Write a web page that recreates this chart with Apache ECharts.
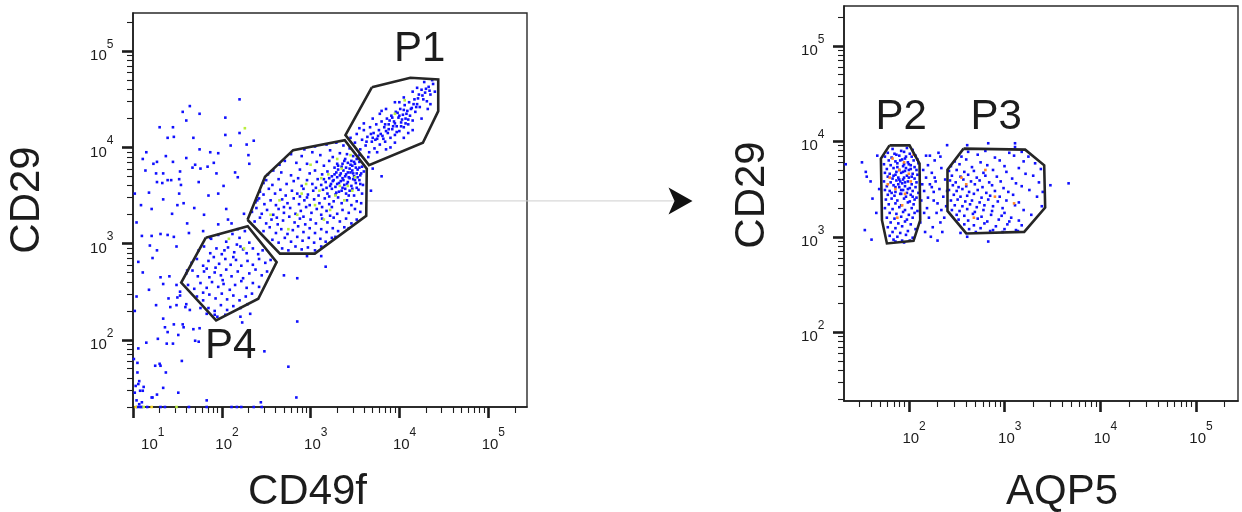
<!DOCTYPE html>
<html>
<head>
<meta charset="utf-8">
<script src="https://cdn.jsdelivr.net/npm/echarts@6/dist/echarts.min.js"></script>
<style>
  html, body { margin: 0; padding: 0; background: #ffffff; }
  #chart { width: 1242px; height: 512px; }
</style>
</head>
<body>
<div id="chart"></div>
<script>
// All event and gate coordinates are log10 intensities: [x channel, CD29].

// ---- Left plot: CD49f vs CD29 ----
const leftOutsideEvents = [
  [2.20,4.50],[1.56,4.37],[1.64,4.43],[1.75,4.35],[1.60,4.28],[2.04,4.31],[1.30,4.21],[1.45,4.21],
  [2.20,4.15],[2.04,4.13],[1.68,4.10],[1.39,4.10],[1.46,4.11],[2.36,4.07],[2.28,4.03],[2.10,4.02],
  [1.11,3.88],[1.37,3.91],[1.60,3.89],[1.75,3.98],[1.87,3.95],[1.96,3.94],[1.14,3.76],[1.23,3.83],
  [1.27,3.85],[1.26,3.73],[1.34,3.73],[1.39,3.66],[1.45,3.85],[1.53,3.75],[1.70,3.82],[1.67,3.79],
  [1.76,3.78],[1.84,3.80],[1.91,3.84],[1.94,3.73],[2.30,3.92],[2.31,3.83],[2.15,3.74],[2.18,3.69],
  [1.27,3.64],[1.43,3.66],[1.52,3.67],[1.54,3.61],[1.18,3.53],[1.33,3.63],[1.52,3.52],[1.96,3.52],
  [1.74,3.64],[1.09,3.40],[1.34,3.46],[1.44,3.31],[1.21,3.36],[1.50,3.40],[1.57,3.42],[1.69,3.37],
  [1.80,3.30],[1.04,3.22],[1.61,3.21],[1.10,3.08],[1.21,3.08],[1.31,3.10],[1.39,3.09],[1.46,3.07],
  [1.63,3.11],[1.79,3.13],[1.87,3.06],[2.07,3.25],[2.11,3.21],[2.25,3.31],[2.18,3.15],[1.96,3.20],
  [1.19,2.98],[1.27,2.93],[1.49,2.97],[1.02,3.52],[2.40,3.45],[2.02,3.60],[1.85,3.50],[1.15,3.95],
  [2.05,3.36],
  [1.06,2.81],[1.31,2.65],[1.41,2.66],[1.34,2.58],[1.49,2.57],[1.40,2.43],[1.50,2.44],[1.42,2.34],
  [1.49,2.36],[1.53,2.50],[1.60,2.37],[1.64,2.31],[1.76,2.33],[1.83,2.27],[1.34,2.22],[1.36,2.13],
  [1.28,2.01],[1.39,2.08],[1.45,1.96],[1.57,2.13],[1.68,2.11],[1.75,2.12],[1.70,1.99],[1.74,1.98],
  [1.55,1.78],[1.25,1.73],[1.31,1.73],[1.37,1.66],[2.21,2.24],[2.23,2.18],[2.32,2.27],[2.48,1.88],
  [2.70,2.67],[2.85,2.64],[2.85,2.19],[2.75,1.72],[2.84,1.40],[3.17,2.76],[2.96,2.87],[2.44,1.35],
  [1.83,1.37],[1.07,1.57],[1.12,1.51],[1.21,1.40],[1.27,1.43],[1.34,1.50],[1.51,1.45],[1.05,1.66],
  [1.08,1.47],[1.01,1.80],[1.06,1.91],[1.15,1.97],[1.05,1.76],[1.06,1.54],[1.11,1.47],[1.04,1.37],
  [1.10,1.35],[1.07,1.33],[1.22,1.40],[1.30,1.75],[1.46,2.16],[1.56,2.16],[1.51,2.05],[1.38,1.96],
  [1.53,2.46],[1.59,2.34],[1.26,2.36],[1.18,2.52],[1.11,2.70],[1.22,2.85],[1.61,2.72],[1.02,2.30],
  [1.04,2.45],[1.02,1.45],[1.03,1.52],[3.70,3.78],[3.80,3.70],[3.55,3.92],[3.68,3.55],[3.12,2.87]
];

const leftMidEvents = [
  [3.05,4.01],[3.18,4.03],[3.29,4.05],[3.37,4.02],[3.44,3.99],[2.93,3.98],[3.22,3.97],
  [2.78,3.93],[2.90,3.91],[3.02,3.95],[3.11,3.92],[3.25,3.90],[3.33,3.94],[3.41,3.93],[3.48,3.91],
  [3.52,3.88],[3.46,3.86],[3.39,3.88],
  [2.65,3.82],[2.71,3.86],[2.84,3.84],[2.96,3.83],[3.07,3.85],[3.15,3.81],[3.21,3.86],[3.30,3.83],
  [3.35,3.80],[3.42,3.84],[3.47,3.81],[3.50,3.83],[3.55,3.85],[3.58,3.80],[3.44,3.78],[3.38,3.86],
  [3.27,3.79],[3.53,3.77],
  [2.52,3.72],[2.58,3.76],[2.67,3.74],[2.78,3.71],[2.88,3.77],[2.99,3.73],[3.05,3.76],[3.13,3.72],
  [3.19,3.75],[3.24,3.70],[3.29,3.74],[3.33,3.71],[3.37,3.76],[3.40,3.72],[3.45,3.74],[3.49,3.70],
  [3.52,3.73],[3.56,3.71],[3.60,3.75],[3.43,3.69],[3.36,3.68],[3.31,3.77],[3.21,3.68],
  [2.47,3.63],[2.50,3.66],[2.57,3.61],[2.64,3.67],[2.73,3.62],[2.81,3.65],[2.90,3.60],[2.96,3.66],
  [3.02,3.62],[3.08,3.67],[3.12,3.61],[3.17,3.64],[3.22,3.60],[3.26,3.66],[3.30,3.62],[3.34,3.65],
  [3.38,3.61],[3.42,3.64],[3.46,3.60],[3.51,3.63],[3.55,3.66],[3.59,3.61],[3.48,3.67],[3.28,3.59],
  [3.15,3.67],[2.86,3.68],
  [2.43,3.54],[2.47,3.51],[2.53,3.57],[2.60,3.52],[2.66,3.56],[2.72,3.50],[2.79,3.55],[2.85,3.52],
  [2.92,3.57],[2.97,3.51],[3.03,3.55],[3.09,3.50],[3.14,3.56],[3.19,3.52],[3.24,3.57],[3.28,3.51],
  [3.32,3.54],[3.36,3.58],[3.40,3.52],[3.44,3.55],[3.49,3.50],[3.54,3.56],[3.58,3.52],[3.21,3.49],
  [3.06,3.58],[2.88,3.49],[3.47,3.57],
  [2.38,3.43],[2.42,3.47],[2.48,3.41],[2.55,3.45],[2.61,3.40],[2.68,3.46],[2.74,3.42],[2.81,3.47],
  [2.87,3.41],[2.93,3.45],[2.99,3.40],[3.04,3.46],[3.10,3.42],[3.16,3.47],[3.21,3.41],[3.26,3.44],
  [3.31,3.48],[3.35,3.42],[3.41,3.45],[3.46,3.40],[3.52,3.44],[3.57,3.42],[3.13,3.38],[2.96,3.48],
  [2.70,3.38],
  [2.34,3.33],[2.39,3.37],[2.45,3.31],[2.51,3.35],[2.58,3.30],[2.64,3.36],[2.70,3.32],[2.77,3.37],
  [2.83,3.31],[2.89,3.34],[2.95,3.38],[3.01,3.32],[3.07,3.36],[3.12,3.30],[3.18,3.34],[3.24,3.38],
  [3.30,3.31],[3.36,3.35],[3.43,3.32],[3.50,3.36],[3.56,3.33],[2.62,3.27],[2.92,3.28],[3.22,3.29],
  [2.37,3.23],[2.43,3.27],[2.50,3.21],[2.56,3.25],[2.63,3.20],[2.69,3.24],[2.76,3.28],[2.82,3.22],
  [2.88,3.26],[2.94,3.20],[3.00,3.25],[3.06,3.21],[3.13,3.26],[3.19,3.22],[3.26,3.27],[3.33,3.23],
  [3.40,3.26],[3.46,3.21],[3.52,3.25],
  [2.47,3.13],[2.54,3.17],[2.61,3.11],[2.67,3.15],[2.74,3.10],[2.80,3.14],[2.86,3.18],[2.92,3.12],
  [2.99,3.16],[3.05,3.11],[3.12,3.15],[3.18,3.12],[3.25,3.16],[3.31,3.13],[3.38,3.17],[3.43,3.16],
  [2.57,3.04],[2.64,3.01],[2.71,3.06],[2.78,3.02],[2.85,3.07],[2.91,3.03],[2.98,3.06],[3.04,3.01],
  [3.11,3.05],[3.17,3.02],[3.24,3.06],[3.28,3.07],
  [2.68,2.95],[2.75,2.93],[2.83,2.97],[2.90,2.94],[2.97,2.96],[3.05,2.93],[3.12,2.97],
  [3.31,3.81],[3.36,3.83],[3.40,3.79],[3.45,3.82],[3.49,3.85],[3.51,3.79],[3.47,3.76],[3.42,3.74],
  [3.39,3.70],[3.34,3.73],[3.30,3.69],[3.27,3.72],[3.25,3.65],[3.32,3.63],[3.37,3.66],[3.41,3.62],
  [3.44,3.68],[3.50,3.66],[3.53,3.69],[3.57,3.73],[3.55,3.79],[3.48,3.73],[3.39,3.57],[3.35,3.55],
  [3.29,3.53],[3.23,3.62],[3.18,3.58],[3.43,3.50],[3.52,3.58],[3.56,3.62]
];

const leftP1Events = [
  [3.45,4.10],[3.50,4.05],[3.52,4.14],[3.56,3.98],[3.58,4.08],[3.60,4.18],[3.62,4.02],[3.64,4.11],
  [3.66,3.95],[3.67,4.21],[3.69,4.06],[3.71,4.15],[3.72,3.99],[3.74,4.24],[3.75,4.09],[3.77,4.18],
  [3.78,4.03],[3.80,4.27],[3.81,4.12],[3.83,4.21],[3.84,4.06],[3.86,4.30],[3.87,4.15],[3.88,4.24],
  [3.90,4.10],[3.91,4.33],[3.92,4.19],[3.94,4.27],[3.95,4.13],[3.96,4.37],[3.97,4.22],[3.99,4.31],
  [4.00,4.17],[4.01,4.40],[4.02,4.26],[4.04,4.34],[4.05,4.21],[4.06,4.44],[4.07,4.30],[4.09,4.38],
  [4.10,4.24],[4.11,4.47],[4.12,4.33],[4.14,4.41],[4.15,4.28],[4.17,4.50],[4.18,4.37],[4.20,4.45],
  [4.22,4.55],[4.23,4.42],[4.25,4.60],[4.27,4.50],[4.29,4.57],[4.31,4.48],[4.33,4.63],[4.35,4.55],
  [4.38,4.66],[4.40,4.58],[4.37,4.70],
  [3.79,4.14],[3.85,4.17],[3.89,4.28],[3.93,4.22],[3.98,4.36],[4.03,4.29],[4.08,4.35],[3.82,4.09],
  [3.76,4.12],[3.70,4.10],[3.95,4.25],[4.00,4.33],[4.05,4.39],[4.13,4.40],[4.16,4.45],[4.19,4.42],
  [3.88,4.19],[3.92,4.31],[4.02,4.22],[4.10,4.29],[3.63,4.06],[3.68,4.14],[3.73,4.08],[3.84,4.24],
  [3.97,4.16],[4.07,4.25],[4.21,4.51],[4.26,4.54],[4.30,4.61],[4.34,4.59],
  [3.60,4.25],[3.70,4.30],[3.78,4.35],[3.85,4.40],[3.95,4.47],[4.05,4.52],[4.15,4.58],[3.75,3.95],
  [3.85,3.98],[3.95,4.05],[4.05,4.10],[4.15,4.18],[4.25,4.30],[4.32,4.40],[3.55,4.20],[3.65,3.90],
  [4.20,4.62],[4.28,4.68],[4.35,4.45],[3.90,4.00],[3.80,4.38],[4.00,4.47],[4.10,4.15]
];

const leftP4Events = [
  [1.88,3.05],[1.96,3.09],[2.05,3.02],[2.12,3.10],[2.20,3.06],[2.26,3.13],[2.31,3.01],[2.17,2.99],
  [1.74,2.93],[1.80,2.97],[1.87,2.90],[1.94,2.95],[2.00,2.89],[2.07,2.96],[2.14,2.91],[2.21,2.97],
  [2.28,2.90],[2.35,2.95],[2.41,2.89],[2.46,2.93],[2.03,2.93],[2.24,2.94],
  [1.66,2.80],[1.72,2.84],[1.79,2.77],[1.85,2.82],[1.91,2.86],[1.97,2.79],[2.04,2.84],[2.10,2.78],
  [2.16,2.83],[2.22,2.77],[2.29,2.82],[2.35,2.78],[2.42,2.84],[2.49,2.80],[2.55,2.83],[1.93,2.75],
  [2.13,2.86],
  [1.60,2.69],[1.67,2.72],[1.73,2.66],[1.80,2.71],[1.86,2.65],[1.92,2.70],[1.99,2.67],[2.05,2.73],
  [2.11,2.66],[2.18,2.71],[2.24,2.64],[2.31,2.69],[2.38,2.73],[2.45,2.67],[2.51,2.71],[1.83,2.74],
  [2.01,2.62],
  [1.62,2.57],[1.69,2.53],[1.76,2.59],[1.83,2.54],[1.89,2.60],[1.96,2.55],[2.02,2.58],[2.09,2.52],
  [2.15,2.57],[2.22,2.61],[2.28,2.54],[2.35,2.59],[2.42,2.55],[1.79,2.49],
  [1.72,2.45],[1.79,2.41],[1.86,2.47],[1.93,2.43],[2.00,2.48],[2.06,2.42],[2.13,2.46],[2.20,2.41],
  [2.27,2.45],[2.34,2.48],
  [1.85,2.33],[1.92,2.30],[1.99,2.36],[2.06,2.31],[2.13,2.35],[2.21,2.33],[2.29,2.37],
  [1.95,2.24],[2.04,2.26],[1.92,2.26]
];

// events sitting on the CD29 floor (20)
const leftFloorEvents = [
  [1.05,1.301],[1.08,1.301],[1.10,1.301],[1.16,1.301],[1.31,1.301],[1.36,1.301],[1.63,1.301],
  [1.83,1.301],[2.11,1.301],[2.17,1.301],[2.22,1.301],[2.36,1.301],[2.45,1.301]
];

const leftGreenEvents = [
  [3.20,3.72],[3.35,3.78],[3.42,3.60],[3.10,3.55],[3.28,3.50],[2.95,3.62],[3.05,3.40],[3.38,3.45],
  [3.50,3.69],[2.85,3.30],[3.15,3.25],[2.65,3.45],[3.30,3.88],[3.45,3.92],[2.75,3.15],[3.00,3.82],
  [3.22,3.35],[3.47,3.55],[2.55,3.30],[3.12,3.68],[3.33,3.60],[2.90,3.52],[3.95,4.35],[4.06,4.49],
  [2.08,3.05],[2.25,2.95],[2.26,4.20],[1.49,1.301],[1.12,1.301]
];

const leftYellowEvents = [[1.03,1.301],[1.21,1.301]];

// ---- Right plot: AQP5 vs CD29 ----
const rightP2Events = [
  [1.83,3.92],[1.92,3.90],[1.98,3.93],[2.04,3.91],
  [1.78,3.88],[1.87,3.86],[1.95,3.89],[2.01,3.87],[2.07,3.85],
  [1.75,3.84],[1.82,3.83],[1.90,3.85],[1.96,3.82],[2.03,3.84],[2.09,3.81],
  [1.79,3.80],[1.86,3.79],[1.93,3.81],[1.99,3.78],[2.05,3.80],[2.10,3.77],
  [1.74,3.76],[1.81,3.75],[1.88,3.77],[1.94,3.74],[2.00,3.76],[2.06,3.73],[1.97,3.72],
  [1.77,3.71],[1.84,3.72],[1.90,3.70],[1.96,3.69],[2.02,3.71],[2.08,3.70],[1.87,3.68],
  [1.75,3.67],[1.80,3.66],[1.86,3.65],[1.92,3.67],[1.98,3.64],[2.04,3.66],[2.09,3.65],[1.95,3.62],
  [1.78,3.63],[1.83,3.61],[1.89,3.62],[1.94,3.60],[2.00,3.62],[2.06,3.61],[1.91,3.58],
  [1.74,3.58],[1.81,3.57],[1.87,3.59],[1.93,3.56],[1.99,3.58],[2.03,3.55],[2.08,3.57],
  [1.77,3.53],[1.84,3.54],[1.90,3.52],[1.96,3.53],[2.01,3.51],[2.07,3.52],[1.94,3.49],
  [1.75,3.49],[1.80,3.48],[1.86,3.47],[1.92,3.49],[1.98,3.46],[2.04,3.48],[2.10,3.46],
  [1.78,3.44],[1.85,3.43],[1.91,3.45],[1.97,3.42],[2.02,3.44],[2.08,3.41],
  [1.76,3.39],[1.82,3.40],[1.88,3.38],[1.95,3.40],[2.01,3.37],[2.06,3.39],
  [1.79,3.34],[1.86,3.35],[1.92,3.33],[1.99,3.36],[2.05,3.34],
  [1.75,3.30],[1.83,3.29],[1.90,3.31],[1.96,3.28],[2.03,3.30],[2.09,3.27],
  [1.80,3.25],[1.87,3.24],[1.94,3.26],[2.00,3.23],[2.06,3.25],
  [1.77,3.20],[1.85,3.19],[1.92,3.21],[1.98,3.18],[2.04,3.20],
  [1.81,3.15],[1.89,3.14],[1.96,3.16],[2.02,3.13],
  [1.78,3.10],[1.86,3.09],[1.93,3.11],[2.07,3.08],
  [1.83,3.05],[1.91,3.04],[1.99,3.06],
  [1.80,3.01],[1.88,3.00],[1.97,3.02],[2.04,2.99],
  [1.84,2.97],[1.93,2.96],[1.86,2.95],[1.95,2.94],[2.01,2.96],
  [1.85,3.87],[1.91,3.80],[1.97,3.84],[2.02,3.75],[1.88,3.73],[1.94,3.68],[2.00,3.70],[1.84,3.64],
  [1.90,3.60],[1.96,3.57],[2.03,3.63],[1.86,3.52],[1.92,3.45],[1.99,3.50],[2.04,3.42],[1.82,3.46],
  [1.89,3.55],[1.95,3.76]
];

const rightP3Events = [
  [2.62,3.89],[2.80,3.90],[3.05,3.88],[3.18,3.89],
  [2.55,3.84],[2.72,3.86],[2.90,3.83],[3.10,3.85],[3.25,3.84],
  [2.48,3.79],[2.60,3.81],[2.75,3.78],[2.95,3.80],[3.20,3.79],[3.32,3.77],
  [2.44,3.74],[2.53,3.76],[2.66,3.73],[2.82,3.75],[3.00,3.74],[3.15,3.72],[3.38,3.71],
  [2.42,3.69],[2.50,3.70],[2.58,3.68],[2.68,3.69],[2.78,3.67],[2.88,3.70],[3.02,3.68],[3.22,3.66],
  [2.45,3.64],[2.54,3.63],[2.62,3.65],[2.71,3.62],[2.80,3.64],[2.92,3.63],[3.08,3.61],[3.30,3.64],
  [2.43,3.59],[2.49,3.57],[2.57,3.60],[2.65,3.58],[2.74,3.59],[2.84,3.57],[2.96,3.58],[3.12,3.56],[3.36,3.57],
  [2.46,3.54],[2.52,3.52],[2.60,3.53],[2.69,3.55],[2.77,3.52],[2.87,3.54],[2.99,3.51],[3.18,3.53],
  [2.42,3.49],[2.50,3.48],[2.56,3.50],[2.63,3.47],[2.72,3.49],[2.81,3.46],[2.90,3.48],[3.04,3.47],[3.26,3.49],
  [2.47,3.44],[2.54,3.42],[2.61,3.43],[2.68,3.45],[2.76,3.41],[2.85,3.43],[2.95,3.42],[3.09,3.44],[3.34,3.42],
  [2.44,3.38],[2.51,3.39],[2.59,3.37],[2.66,3.38],[2.74,3.36],[2.83,3.39],[2.93,3.37],[3.02,3.38],[3.15,3.36],
  [2.48,3.33],[2.56,3.32],[2.64,3.34],[2.71,3.31],[2.79,3.33],[2.88,3.32],[2.98,3.30],[3.11,3.33],[3.39,3.32],
  [2.45,3.28],[2.53,3.27],[2.61,3.29],[2.69,3.26],[2.78,3.28],[2.87,3.27],[3.00,3.25],[3.20,3.28],
  [2.50,3.23],[2.58,3.22],[2.67,3.24],[2.76,3.21],[2.86,3.23],[2.97,3.22],[3.07,3.20],[3.28,3.23],
  [2.52,3.18],[2.62,3.17],[2.72,3.19],[2.82,3.16],[2.94,3.18],[3.05,3.16],[3.15,3.17],
  [2.58,3.13],[2.68,3.12],[2.79,3.14],[2.91,3.11],[3.03,3.13],[3.18,3.12],
  [2.63,3.08],[2.75,3.09],[2.88,3.07],[3.00,3.08],[3.12,3.07],
  [2.70,3.05],[2.85,3.06],[2.98,3.05],[3.14,3.06]
];

const rightOtherEvents = [
  [2.14,3.55],[2.16,3.48],[2.15,3.70],[2.18,3.62],[2.20,3.41],[2.22,3.55],[2.19,3.30],[2.24,3.67],
  [2.26,3.47],[2.21,3.20],[2.28,3.58],[2.30,3.35],[2.25,3.10],[2.32,3.50],[2.34,3.72],[2.27,3.80],
  [2.36,3.42],[2.29,3.25],[2.38,3.60],[2.33,3.15],[2.17,3.05],[2.23,3.00],[2.35,3.05],[2.31,3.88],
  [2.18,3.85],[2.39,3.32],[2.13,3.38],[2.37,3.20],[2.26,3.38],[2.20,3.75],[2.30,2.96],[2.24,3.52],
  [2.16,3.25],[2.40,3.48],[2.12,3.15],[2.27,3.62],[2.34,3.28],[2.22,3.85],[2.33,3.84],
  [1.34,3.76],[1.51,3.78],[1.55,3.68],[1.56,3.63],[1.60,3.58],[1.67,3.85],[1.54,3.07],[1.61,2.97],
  [1.62,3.40],[1.66,3.25],[1.69,3.50],
  [3.48,3.54],[3.67,3.56],[3.40,3.47],[2.83,3.98],[3.11,3.98],[3.11,3.94],[2.61,3.96],[2.40,3.96],
  [2.83,2.95],[2.61,3.00],[2.54,3.04]
];

const rightOrangeEvents = [
  [1.83,3.82],[1.95,3.78],[2.05,3.86],[1.80,3.62],[1.90,3.70],[2.00,3.66],[1.86,3.50],[1.96,3.45],
  [2.02,3.58],[1.78,3.55],[1.93,3.33],[1.88,3.20],[2.60,3.55],[2.80,3.70],[2.90,3.42],[2.68,3.20],
  [3.10,3.35],[2.55,3.62]
];

// ---- Gate outlines (log10 vertices) ----
const gateP1 = [[3.69,4.625],[4.124,4.725],[4.438,4.708],[4.438,4.378],[4.265,4.048],[3.658,3.816],[3.393,4.128]];
const gateMid = [[2.29,3.248],[2.487,3.694],[2.804,3.972],[3.385,4.076],[3.633,3.779],[3.627,3.29],[3.048,2.896],[2.655,2.896]];
const gateP4 = [[1.82,3.062],[2.292,3.18],[2.618,2.808],[2.411,2.427],[1.936,2.201],[1.543,2.594]];
const gateP2 = [[1.798,3.958],[2.007,3.958],[2.112,3.767],[2.119,3.174],[2.049,2.957],[1.771,2.93],[1.719,3.174],[1.708,3.819]];
const gateP3 = [[2.572,3.924],[3.216,3.913],[3.415,3.749],[3.425,3.306],[3.206,3.051],[2.6,3.035],[2.404,3.271],[2.404,3.704]];

const gateNamesLeft = [{ name: 'P1', at: [4.23, 5.02] }, { name: 'P4', at: [2.10, 1.93] }];
const gateNamesRight = [{ name: 'P2', at: [1.92, 4.246] }, { name: 'P3', at: [2.913, 4.246] }];

// ---- Axes ----
const leftXDecades = [10, 100, 1000, 10000, 100000];
const leftYDecades = [100, 1000, 10000, 100000];
const rightXDecades = [100, 1000, 10000, 100000];
const rightYDecades = [100, 1000, 10000, 100000];
const leftXRange = [10, 274000];
const leftYRange = [20, 250000];
const rightXRange = [21, 276000];
const rightYRange = [19, 262144];
const minorMultipliers = [2, 3, 4, 5, 6, 7, 8, 9];
const decadeStarts = [1, 10, 100, 1000, 10000, 100000];

const FONT = "'Liberation Sans', Arial, Helvetica, sans-serif";
const INK = '#1c1c1c';
const BLUE = '#1010ff';
const GREEN = '#b9ee3c';
const YELLOW = '#f2d21c';
const ORANGE = '#ff8a2a';

const minorTicks = [];
decadeStarts.forEach(d => minorMultipliers.forEach(m => minorTicks.push(m * d)));

const dec = v => Math.pow(10, v);
const toData = pts => pts.map(p => [dec(p[0]), dec(p[1])]);
const ring = pts => toData(pts.concat([pts[0]]));
const exponentOf = v => Math.round(Math.log10(v));

const richBase = {
  b: { fontSize: 15, lineHeight: 12, verticalAlign: 'bottom', fontFamily: FONT, color: INK },
  e: { fontSize: 12, lineHeight: 12, verticalAlign: 'top', fontFamily: FONT, color: INK },
  s: { fontSize: 2, lineHeight: 25 }
};
const richX = Object.assign({}, richBase, {
  b: Object.assign({}, richBase.b, { padding: [0, 0, 0, 11] }),
  b1: Object.assign({}, richBase.b, { padding: [0, 0, 0, 40] })
});

function xAxes(gridIndex, range, decades) {
  const common = { type: 'log', logBase: 10, gridIndex, position: 'bottom', min: range[0], max: range[1], splitLine: { show: false } };
  return [
    Object.assign({}, common, {
      axisLine: { show: true, onZero: false, lineStyle: { color: INK, width: 1.6 } },
      axisTick: { show: true, length: 11, customValues: decades, lineStyle: { color: INK, width: 2.6 } },
      axisLabel: {
        show: true, margin: 20, customValues: decades, rich: richX,
        formatter: v => (exponentOf(v) === 1 ? '{b1|10}' : '{b|10}') + '{e|' + exponentOf(v) + '}{s| }'
      }
    }),
    Object.assign({}, common, {
      axisLine: { show: false }, axisLabel: { show: false },
      axisTick: { show: true, length: 6, customValues: minorTicks, lineStyle: { color: INK, width: 1.1 } }
    })
  ];
}

function yAxes(gridIndex, range, decades) {
  const common = { type: 'log', logBase: 10, gridIndex, position: 'left', min: range[0], max: range[1], splitLine: { show: false } };
  return [
    Object.assign({}, common, {
      axisLine: { show: true, onZero: false, lineStyle: { color: INK, width: 1.6 } },
      axisTick: { show: true, length: 11, customValues: decades, lineStyle: { color: INK, width: 2.6 } },
      axisLabel: {
        show: true, margin: 19, customValues: decades, rich: richBase,
        formatter: v => '{b|10}{e|' + exponentOf(v) + '}{s| }'
      }
    }),
    Object.assign({}, common, {
      axisLine: { show: false }, axisLabel: { show: false },
      axisTick: { show: true, length: 6, customValues: minorTicks, lineStyle: { color: INK, width: 1.1 } }
    })
  ];
}

function dots(pts, color, axisIndex) {
  return {
    type: 'scatter', xAxisIndex: axisIndex, yAxisIndex: axisIndex, data: toData(pts),
    symbol: 'rect', symbolSize: 2.6, itemStyle: { color, opacity: 1 }, silent: true, clip: false, z: 2
  };
}

function gate(pts, axisIndex) {
  return {
    type: 'line', xAxisIndex: axisIndex, yAxisIndex: axisIndex, data: ring(pts),
    symbol: 'none', showSymbol: false, silent: true, z: 3,
    lineStyle: { color: '#262626', width: 2.6, join: 'miter', opacity: 1 }
  };
}

function gateNames(list, axisIndex) {
  return {
    type: 'scatter', xAxisIndex: axisIndex, yAxisIndex: axisIndex, silent: true, z: 4,
    symbolSize: 1, itemStyle: { color: 'rgba(0,0,0,0)', opacity: 1 },
    data: list.map(g => ({ name: g.name, value: [dec(g.at[0]), dec(g.at[1])] })),
    label: {
      show: true, position: 'inside', formatter: p => p.name, fontSize: 42, fontFamily: FONT,
      color: INK, opacity: 1, textBorderWidth: 0
    }
  };
}

const chart = echarts.init(document.getElementById('chart'), null, { renderer: 'canvas' });

const option = {
  animation: false,
  backgroundColor: '#ffffff',
  grid: [
    { left: 133, top: 13, width: 394, height: 394, show: true, borderColor: '#2a2a2a', borderWidth: 1.4, backgroundColor: 'transparent' },
    { left: 844, top: 6, width: 394, height: 395, show: true, borderColor: '#2a2a2a', borderWidth: 1.4, backgroundColor: 'transparent' }
  ],
  xAxis: [].concat(xAxes(0, leftXRange, leftXDecades), xAxes(1, rightXRange, rightXDecades)),
  yAxis: [].concat(yAxes(0, leftYRange, leftYDecades), yAxes(1, rightYRange, rightYDecades)),
  series: [
    dots(leftOutsideEvents, BLUE, 0),
    dots(leftMidEvents, BLUE, 0),
    dots(leftP1Events, BLUE, 0),
    dots(leftP4Events, BLUE, 0),
    dots(leftFloorEvents, BLUE, 0),
    dots(leftGreenEvents, GREEN, 0),
    dots(leftYellowEvents, YELLOW, 0),
    gate(gateP1, 0),
    gate(gateMid, 0),
    gate(gateP4, 0),
    gateNames(gateNamesLeft, 0),
    dots(rightP2Events, BLUE, 2),
    dots(rightP3Events, BLUE, 2),
    dots(rightOtherEvents, BLUE, 2),
    dots(rightOrangeEvents, ORANGE, 2),
    gate(gateP2, 2),
    gate(gateP3, 2),
    gateNames(gateNamesRight, 2)
  ]
};
chart.setOption(option);

// Axis titles and the arrow carrying the middle gate over to the right plot.
const arrowStart = chart.convertToPixel({ xAxisIndex: 0, yAxisIndex: 0 }, [dec(3.633), dec(3.444)]);
const ay = arrowStart[1];
const titleStyle = { fontSize: 42, fontFamily: FONT, fill: INK, align: 'center', verticalAlign: 'middle', textAlign: 'center', textVerticalAlign: 'middle' };
chart.setOption({
  graphic: [
    { type: 'text', x: 27.5, y: 200, rotation: Math.PI / 2, style: Object.assign({ text: 'CD29' }, titleStyle) },
    { type: 'text', x: 307.5, y: 492, style: Object.assign({ text: 'CD49f' }, titleStyle) },
    { type: 'text', x: 752, y: 195, rotation: Math.PI / 2, style: Object.assign({ text: 'CD29' }, titleStyle) },
    { type: 'text', x: 1062, y: 492, style: Object.assign({ text: 'AQP5' }, titleStyle) },
    { type: 'line', z: 1, shape: { x1: arrowStart[0], y1: ay, x2: 674, y2: ay }, style: { stroke: '#cfcfcf', lineWidth: 1 } },
    { type: 'polygon', shape: { points: [[692.5, ay], [668.5, ay - 13.5], [674.5, ay], [668.5, ay + 13.5]] }, style: { fill: '#111111' } }
  ]
});
</script>
</body>
</html>
